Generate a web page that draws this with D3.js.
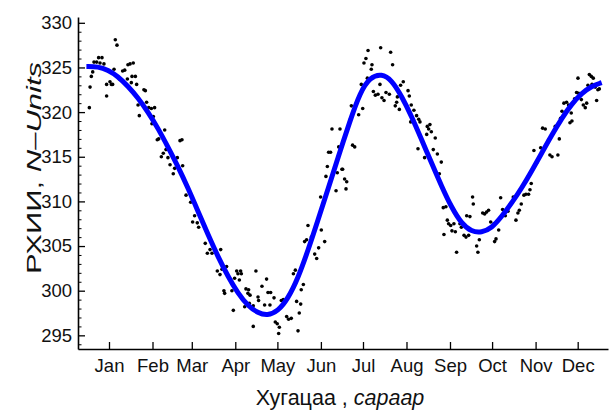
<!DOCTYPE html>
<html>
<head>
<meta charset="utf-8">
<script src="https://cdn.jsdelivr.net/npm/d3@7"></script>
<style>
  body { margin: 0; background: #fff; }
  svg { display: block; font-family: "Liberation Sans", Arial, sans-serif; }
</style>
</head>
<body>
<div id="chart"></div>
<script>
// x is day of year (0 = 1 Jan), y is the measured value
const monthLabels = ["Jan", "Feb", "Mar", "Apr", "May", "Jun", "Jul", "Aug", "Sep", "Oct", "Nov", "Dec"];
const monthStarts = [0, 31, 59, 90, 120, 151, 181, 212, 243, 273, 304, 334];
const yMajorTicks = [295, 300, 305, 310, 315, 320, 325, 330];

// fitted curve
const curveDays = [-16.1, -7.8, -0.7, 6.4, 13.5, 20.7, 27.8, 34.9, 42.0, 49.2, 56.3, 63.4, 70.5, 77.7, 84.8, 91.9,
  99.0, 106.2, 112.8, 120.4, 127.5, 134.7, 141.8, 148.9, 156.1, 163.2, 171.7, 178.9, 186.0, 194.3, 201.4,
  208.5, 215.7, 222.8, 229.9, 237.0, 244.2, 251.3, 258.4, 265.5, 272.7, 279.8, 286.9, 294.1, 301.2, 308.3,
  315.4, 322.6, 329.7, 336.8, 343.9, 351.1];
const curveVals = [325.1, 325.1, 324.7, 324.0, 322.9, 321.6, 320.0, 318.2, 316.1, 313.9, 311.5, 308.9, 306.3, 303.8,
  301.6, 299.7, 298.3, 297.5, 297.2, 297.7, 299.1, 301.4, 304.5, 307.9, 311.4, 314.9, 319.0, 322.2, 323.9,
  324.3, 323.6, 321.8, 319.5, 316.9, 314.3, 311.7, 309.3, 307.5, 306.6, 306.5, 307.0, 308.3, 309.8, 311.5,
  313.4, 315.4, 317.4, 319.3, 320.9, 322.1, 322.9, 323.3];

// daily observations
const dotDays = [-14.0, -13.5, -12.6, -11.6, -10.7, -8.8, -7.4, -5.0, -6.4, -3.6, -1.7, -1.7, 0.7, 2.6, 1.7, 3.6,
  4.5, 5.7, 7.4, 9.7, 11.2, 13.1, 13.5, 15.0, 17.3, 15.9, 16.4, 18.8, 19.7, 21.6, 20.7, 24.9, 25.9, 26.8,
  28.3, 30.2, 32.5, 31.6, 30.6, 34.4, 35.4, 39.7, 37.3, 38.7, 40.6, 42.0, 43.5, 45.8, 46.8, 48.7, 50.6,
  52.0, 52.5, 54.9, 58.2, 59.6, 61.0, 62.9, 63.9, 68.6, 70.1, 72.0, 73.4, 75.3, 79.6, 77.2, 79.1, 80.5,
  83.8, 81.9, 82.4, 87.6, 88.6, 89.5, 91.0, 91.9, 93.8, 94.3, 92.9, 96.7, 97.6, 99.5, 99.0, 100.5, 100.0,
  102.8, 102.8, 104.7, 106.2, 106.6, 109.0, 110.9, 112.3, 113.3, 115.2, 114.7, 117.6, 118.5, 119.9, 120.9,
  121.4, 122.8, 124.2, 126.6, 128.0, 129.9, 133.7, 132.8, 134.7, 131.4, 135.6, 136.6, 137.0, 138.5, 139.4,
  140.8, 141.8, 144.2, 146.6, 148.0, 149.4, 151.3, 150.8, 153.7, 154.6, 155.6, 156.5, 157.9, 158.9, 161.8,
  162.7, 163.7, 164.6, 166.0,
  166.5, 167.9, 169.4, 168.9, 173.6, 175.1, 171.7, 172.7, 177.9, 176.5, 180.8, 179.8, 184.1, 181.7, 183.1,
  184.6, 187.4, 186.9, 188.4, 189.8, 191.7, 193.6, 193.1, 194.5, 196.0, 197.4, 199.8, 200.7, 202.1, 204.0,
  205.0, 205.5, 206.9, 207.8, 209.7, 211.2, 213.1, 214.0, 215.4, 215.0, 217.3, 219.2, 220.7, 221.6, 220.2,
  224.9, 226.8, 228.7, 227.8, 229.7, 226.4, 232.5, 231.1, 234.0, 236.8, 235.4, 238.2, 240.1, 241.1, 242.0,
  243.5, 238.7, 244.4, 246.8, 247.7, 245.8, 250.1, 251.1, 253.0, 254.4, 256.3, 254.9, 257.2, 259.1, 259.6,
  262.0, 262.9, 263.9, 266.3, 267.7, 269.1, 270.5, 272.0, 274.3, 274.8, 275.8, 277.7, 279.1, 280.5, 282.4,
  284.3, 286.2, 288.1, 290.0, 291.4, 292.4, 293.8, 295.7, 297.1, 299.0, 300.0, 300.9, 302.8, 304.7, 307.6,
  309.0, 310.9, 313.3, 314.2, 315.7, 318.0, 319.9, 320.9, 321.8, 322.8, 324.2, 326.1, 327.5, 328.5, 329.9,
  329.4, 331.8, 333.2, 334.2, 334.7, 336.6, 338.0, 339.4, 340.4, 341.3, 342.3, 343.7, 345.1, 346.5, 347.5,
  348.4, 349.4, 344.2];
const dotVals = [320.5, 322.8, 324.0, 324.5, 325.6, 325.6, 326.1, 326.1, 325.5, 325.4, 321.8, 323.1, 323.4, 323.1,
  323.1, 324.8, 328.1, 327.5, 323.7, 324.6, 324.7, 323.7, 325.3, 325.4, 325.5, 323.3, 324.0, 324.0, 323.1,
  319.6, 320.8, 322.5, 322.4, 321.1, 320.5, 320.4, 320.5, 319.5, 318.7, 316.9, 317.0, 318.0, 315.0, 315.4,
  315.8, 314.9, 314.1, 313.1, 313.7, 314.9, 316.8, 316.9, 314.0, 310.7, 309.9, 307.7, 308.4, 307.6, 307.1,
  305.3, 304.2, 304.6, 304.2, 304.6, 304.6, 302.2, 301.8, 302.4, 302.7, 300.0, 299.7, 300.0, 297.8, 301.4,
  302.2, 301.9, 302.2, 301.9, 301.2, 298.2, 300.2, 300.1, 299.7, 299.5, 298.6, 298.3, 296.0, 302.2, 299.3,
  298.9, 300.5, 298.4, 301.3, 299.8, 299.8, 298.4, 299.2, 296.5, 296.3, 295.2, 295.9, 298.9, 299.0, 297.1,
  296.8, 296.9, 298.8, 302.3, 295.5, 301.9, 297.5, 298.5, 300.1, 300.7, 305.5, 305.7, 307.3, 306.0, 304.1,
  303.6, 304.8, 306.8, 310.5, 305.5, 312.8, 313.9, 315.5, 315.5, 318.1, 311.2, 313.2, 316.1, 318.1, 313.6,
  313.6, 312.5, 312.2, 311.4, 316.3, 316.1, 319.1, 320.7, 319.7, 321.0, 320.4, 323.1, 323.8, 325.5, 326.0,
  326.9, 325.3, 324.8, 322.3, 321.9, 322.0, 327.2, 323.1, 321.6, 321.3, 322.2, 322.0, 326.7, 325.3, 320.7,
  321.1, 321.7, 320.3, 323.0, 323.4, 320.9, 322.4, 321.8, 320.8, 318.9, 320.2, 319.6, 319.2, 318.9, 315.9,
  314.9, 318.4, 318.6, 318.1, 317.8, 317.5, 317.1, 315.8, 315.3, 314.4, 313.1, 309.3, 309.4, 307.9, 307.5,
  307.3, 306.3, 306.7, 306.6, 304.3, 307.5, 307.5, 307.1, 306.2, 306.0, 306.2, 308.4, 308.3, 310.5, 309.7,
  305.0, 304.3, 305.7, 308.7, 308.6, 308.8, 309.0, 307.7, 307.5, 305.5, 305.8, 306.8, 310.4, 309.1, 308.4,
  308.9, 309.8, 310.5, 307.9, 308.7, 309.0, 309.7, 310.7, 310.8, 310.8, 311.3, 312.0, 315.7, 314.3, 316.0,
  318.2, 318.1, 316.9, 315.2, 315.0, 318.4, 315.2, 317.0, 319.3, 320.1, 321.0, 321.1, 320.8, 318.8, 319.0,
  319.9, 321.5, 322.2, 323.8, 322.1, 321.4, 320.8, 320.5, 321.0, 323.0, 324.2, 324.0, 323.8, 322.8, 321.3,
  322.5, 322.6, 323.1];

const width = 610, height = 410;
const plotLeft = 78, plotRight = 608, plotTop = 17, plotBottom = 349;

const svg = d3.select("#chart").append("svg")
  .attr("width", width)
  .attr("height", height);

const x = d3.scaleLinear().domain([-22.09, 355.6]).range([plotLeft, plotRight]);
const y = d3.scaleLinear().domain([293.47, 330.65]).range([plotBottom, plotTop]);

// minor y ticks, every unit
const minorTicks = d3.range(294, 331).filter(v => v % 5 !== 0);
svg.append("g")
  .attr("transform", "translate(" + plotLeft + ",0)")
  .call(d3.axisLeft(y).tickValues(minorTicks).tickFormat("").tickSizeInner(-3.5).tickSizeOuter(0))
  .call(g => g.select(".domain").remove())
  .call(g => g.selectAll("line").attr("stroke", "#000").attr("stroke-width", 1));

// major y axis
svg.append("g")
  .attr("transform", "translate(" + plotLeft + ",0)")
  .call(d3.axisLeft(y).tickValues(yMajorTicks).tickSizeInner(-7).tickSizeOuter(0).tickPadding(6))
  .call(g => g.select(".domain").attr("stroke", "#000").attr("stroke-width", 1.6))
  .call(g => g.selectAll("line").attr("stroke", "#000").attr("stroke-width", 1.3))
  .call(g => g.selectAll("text").attr("font-size", 18.5).attr("fill", "#111")
    .attr("font-family", "Liberation Sans, Arial, sans-serif"));

// x axis, ticks at the start of each month
svg.append("g")
  .attr("transform", "translate(0," + plotBottom + ")")
  .call(d3.axisBottom(x).tickValues(monthStarts).tickFormat((d, i) => monthLabels[i])
    .tickSizeInner(-7).tickSizeOuter(0).tickPadding(9.5))
  .call(g => g.select(".domain").attr("stroke", "#000").attr("stroke-width", 1.6))
  .call(g => g.selectAll("line").attr("stroke", "#000").attr("stroke-width", 1.3))
  .call(g => g.selectAll("text").attr("font-size", 18.5).attr("fill", "#111")
    .attr("font-family", "Liberation Sans, Arial, sans-serif"));

// dots
svg.append("g")
  .selectAll("circle")
  .data(dotDays)
  .join("circle")
  .attr("cx", d => x(d))
  .attr("cy", (d, i) => y(dotVals[i]))
  .attr("r", 1.8)
  .attr("fill", "#000");

// fitted curve
const line = d3.line()
  .x(d => x(d[0]))
  .y(d => y(d[1]))
  .curve(d3.curveBasis);

svg.append("path")
  .datum(curveDays.map((d, i) => [d, curveVals[i]]))
  .attr("d", line)
  .attr("fill", "none")
  .attr("stroke", "#0000ff")
  .attr("stroke-width", 5)
  .attr("stroke-linecap", "butt");

// axis titles
const xt = svg.append("text")
  .attr("x", 340)
  .attr("y", 405)
  .attr("text-anchor", "middle")
  .attr("font-size", 21.5)
  .attr("fill", "#111");
xt.append("tspan").text("Хугацаа , ");
xt.append("tspan").attr("font-style", "italic").text("сараар");

// the rotated title is drawn wide in the original, stretch it to the same length
const yt = svg.append("text")
  .attr("transform", "translate(41,168) rotate(-90)")
  .attr("text-anchor", "middle")
  .attr("font-size", 20)
  .attr("textLength", 212)
  .attr("lengthAdjust", "spacingAndGlyphs")
  .attr("fill", "#111");
yt.append("tspan").text("РХИИ, ");
yt.append("tspan").attr("font-style", "italic").text("N–Units");
</script>
</body>
</html>
